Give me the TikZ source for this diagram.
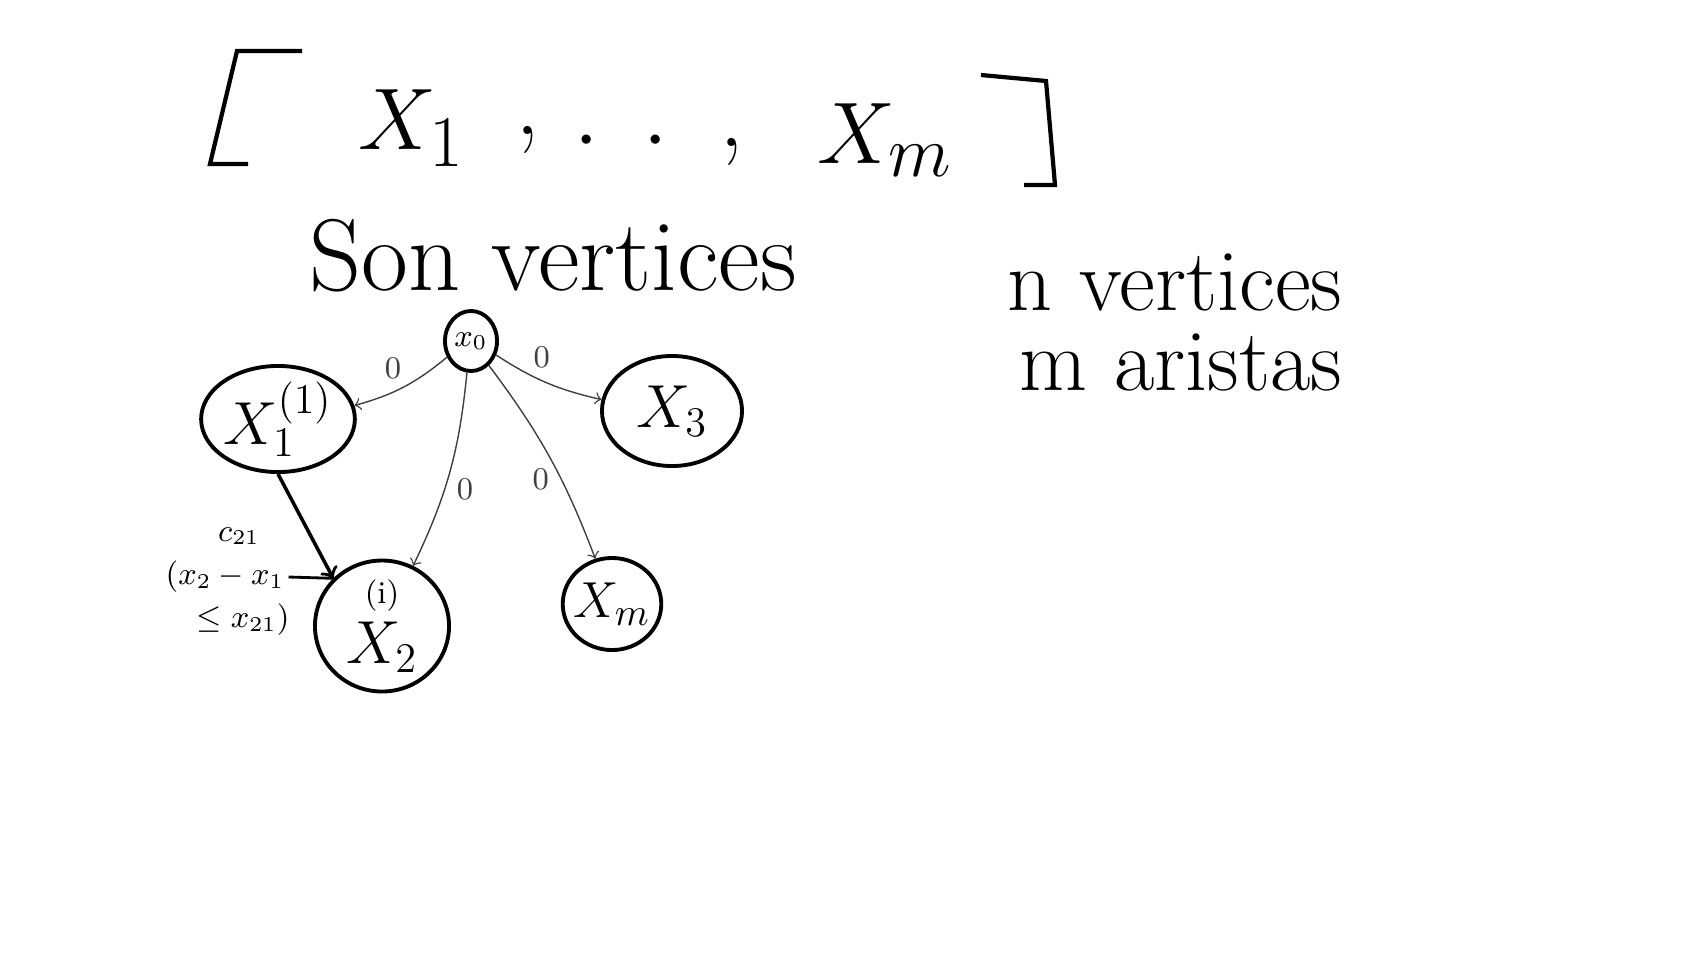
\documentclass[tikz,border=0pt]{standalone}
\usetikzlibrary{shapes.geometric, positioning, arrows}

\begin{document}
\begin{tikzpicture}[x=0.01cm, y=-0.01cm]
	\tikzstyle{vert}=[draw, ellipse, line width=1.1pt, inner sep=0pt, font=\fontsize{17}{19}\selectfont]
	\tikzstyle{every edge}=[draw,->,>=to,black!75,thin]
	\tikzstyle{big}=[font=\fontsize{28}{32}\selectfont]
	\tikzstyle{wt}=[font=\small, black!75]
	\tikzstyle{lbl}=[font=\small, inner sep=1pt]

	\useasboundingbox (0,0) rectangle (1691,969);

	% la lista de vertices
	\draw[line width=1.2pt] (302,51) -- (237,51) -- (210,164) -- (248,164);
	\draw[line width=1.2pt] (981,75) -- (1046,81) -- (1055,185) -- (1024,185);
	\node[big] (l1) at (412,128) {$X_1$};
	\node[big] (k1) at (528,140) {,};
	\node[big] (pts) at (621,142) {$\cdot\hspace{4.5mm}\cdot$};
	\node[big] (k2) at (732,152) {,};
	\node[big] (lm) at (885,140) {$X_m$};

	\node[font=\fontsize{29}{34}\selectfont] (son) at (553,256) {Son vertices};
	\node[font=\fontsize{25}{30}\selectfont] (nv) at (1175,282) {n vertices};
	\node[font=\fontsize{25}{30}\selectfont] (ma) at (1181,362) {m aristas};

	% el grafo
	\node[vert, minimum width=0.52cm, minimum height=0.6cm, font=\small] (x0) at (471,341) {$x_0$};
	\node[vert, minimum width=1.41cm, minimum height=1.04cm] (x1) at (278,419) {$X^{(1)}_1$};
	\node[vert, minimum width=1.40cm, minimum height=1.10cm] (x3) at (672,411) {$X_3$};
	\node[vert, minimum width=1.34cm, minimum height=1.07cm, align=center] (x2) at (382,626) {{\small (i)}\\[-2pt]$X_2$};
	\node[vert, minimum width=0.88cm, minimum height=0.92cm, inner sep=-1pt, font=\fontsize{15}{17}\selectfont] (xm) at (612,604) {$X_m$};

	\draw (x0) edge[bend left=12] node[wt, above, pos=0.62] {0} (x1)
	edge[bend right=10] node[wt, above, pos=0.45] {0} (x3)
	edge[bend left=10] node[wt, right, pos=0.6] {0} (x2)
	edge[bend left=8] node[wt, left, pos=0.62] {0} (xm);
	\draw (x1.south) edge[black, line width=1pt] (x2.north west);

	\node[lbl] (c21) at (239,536) {$c_{21}$};
	\node[lbl] (dif) at (225,577) {$(x_2 - x_1$};
	\node[lbl] (cota) at (243,620) {$\leq x_{21})$};
	\draw[thick] (dif.east) -- (x2.north west);
\end{tikzpicture}
\end{document}
